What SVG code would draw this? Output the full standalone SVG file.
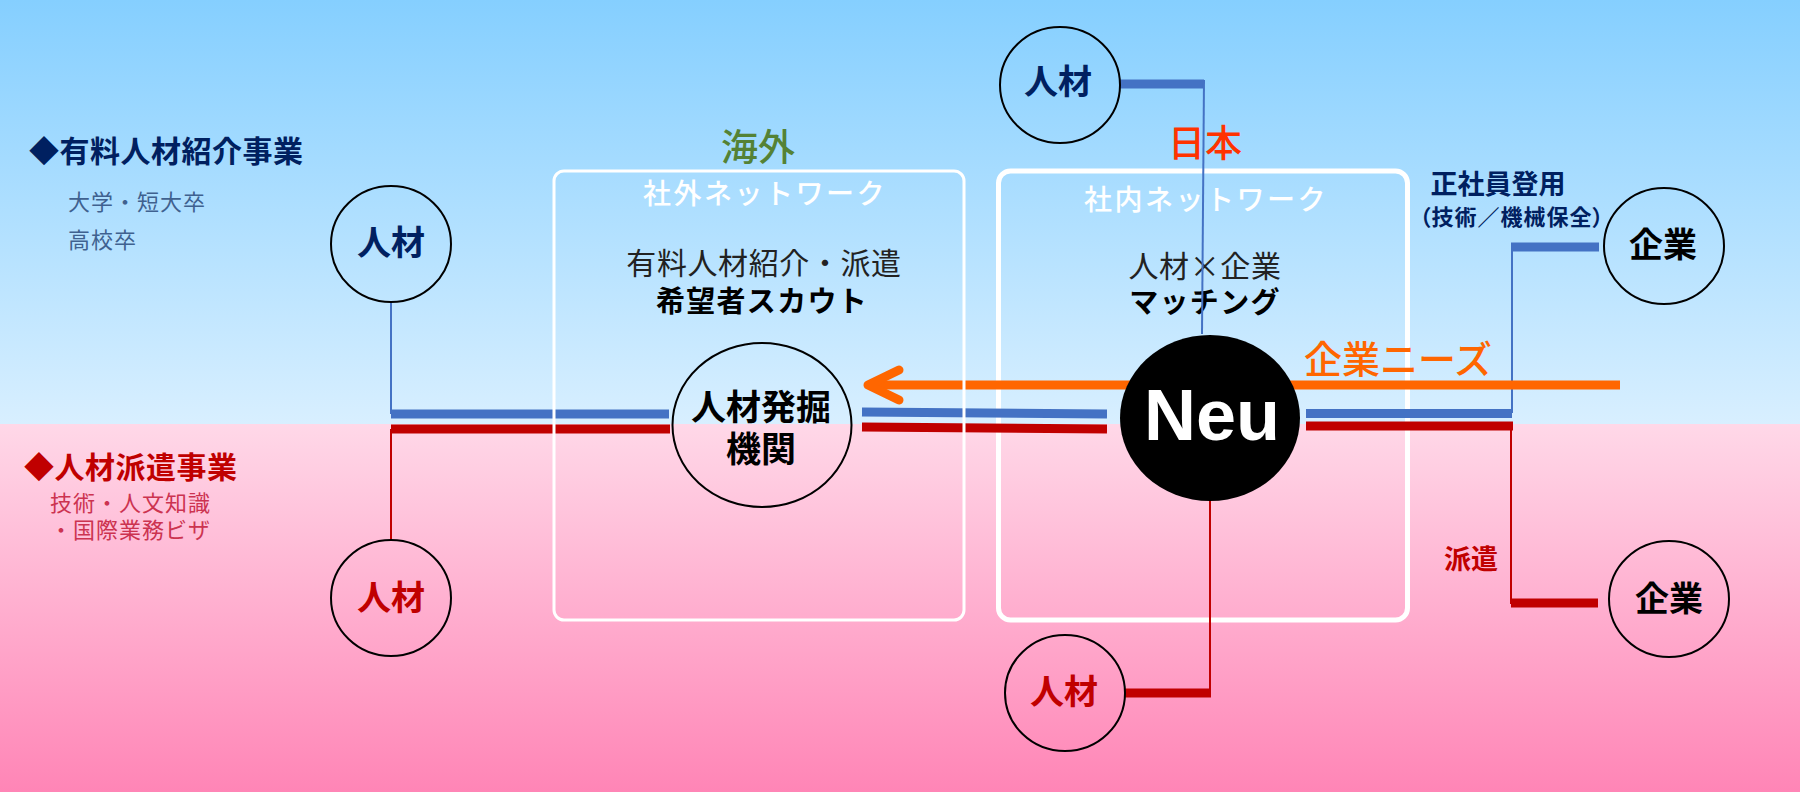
<svg xmlns="http://www.w3.org/2000/svg" width="1800" height="792" viewBox="0 0 1800 792">
<defs>
<linearGradient id="sky" x1="0" y1="0" x2="0" y2="1"><stop offset="0" stop-color="#85cfff"/><stop offset="1" stop-color="#d8efff"/></linearGradient>
<linearGradient id="rose" x1="0" y1="0" x2="0" y2="1"><stop offset="0" stop-color="#ffd8e8"/><stop offset="1" stop-color="#ff85b6"/></linearGradient>
</defs>
<style>
text{font-family:"Noto Sans CJK JP","Noto Sans",sans-serif}
.c{text-anchor:middle}
.ring{fill:none;stroke:#000;stroke-width:2}
.box{fill:none;stroke:#fff}
.node{font-size:34px;font-weight:700}
.scout{font-size:35px;font-weight:700;fill:#000}
.navy{fill:#002060}.red{fill:#c00000}.blk{fill:#000}
.h{font-size:30px;font-weight:700;letter-spacing:.5px}
.net{font-size:28px;font-weight:500;fill:#fff;letter-spacing:2.5px}
.mid{font-size:30px;font-weight:400;fill:#222;letter-spacing:.6px}
.bold{font-size:29px;font-weight:700;fill:#000;letter-spacing:1.3px}
.sub1{font-size:22px;fill:#3f618f;letter-spacing:1px}
.sub2{font-size:22px;fill:#cc3350;letter-spacing:1px}
.b8{fill:none;stroke:#4472c4;stroke-width:9}
.r8{fill:none;stroke:#c00000;stroke-width:9}
.b2{fill:none;stroke:#4472c4;stroke-width:2}
.r2{fill:none;stroke:#c00000;stroke-width:2}
.or{fill:none;stroke:#ff6600;stroke-width:9}
</style>
<g id="background">
<rect x="0" y="0" width="1800" height="424" fill="url(#sky)"/>
<rect x="0" y="424" width="1800" height="368" fill="url(#rose)"/>
</g>
<g id="legend">
<text x="29" y="162" class="h navy">◆有料人材紹介事業</text>
<text x="68" y="210" class="sub1">大学・短大卒</text>
<text x="68" y="248" class="sub1">高校卒</text>
<text x="24" y="478" class="h red">◆人材派遣事業</text>
<text x="50" y="511" class="sub2">技術・人文知識</text>
<text x="50" y="538" class="sub2">・国際業務ビザ</text>
</g>
<g id="node-japan-network">
<rect class="box" x="998.500" y="171" width="409" height="449" rx="12" stroke-width="5"/>
<text x="1205" y="157" class="c" font-size="37" font-weight="500" fill="#ff3300">日本</text>
<text x="1206" y="210" class="c net">社内ネットワーク</text>
<text x="1205" y="277" class="c mid">人材×企業</text>
<text x="1205" y="313" class="c bold">マッチング</text>
</g>
<g id="connectors">
<path class="b2" d="M391 302V414"/>
<path class="r2" d="M391 429V541"/>
<path class="b8" d="M391 414H669"/>
<path class="r8" d="M391 429H670"/>
<path class="b8" d="M862 412L1107 414"/>
<path class="r8" d="M862 427L1107 429"/>
<path class="b8" d="M1306 413.500H1512"/>
<path class="r8" d="M1306 426H1513"/>
<path class="b2" d="M1512 413V244"/>
<path class="b8" d="M1511 247H1599"/>
<path class="r2" d="M1511 430V604"/>
<path class="r8" d="M1511 603H1598"/>
<path class="b8" d="M1119 84H1204"/>
<path class="b2" d="M1204 80L1202 334"/>
<path class="r2" d="M1210 501V694"/>
<path class="r8" d="M1125 693H1211"/>
<path class="or" d="M1620 385H868"/>
<path class="or" stroke-linecap="round" stroke-linejoin="round" d="M899 370L868 385L899 400"/>
</g>
<g id="node-overseas-network">
<rect class="box" x="554" y="171" width="410" height="449" rx="10" stroke-width="3"/>
<text x="758" y="161" class="c" font-size="37" font-weight="500" fill="#548235">海外</text>
<text x="765" y="204" class="c net">社外ネットワーク</text>
<text x="764" y="274" class="c mid">有料人材紹介・派遣</text>
<text x="762" y="312" class="c bold">希望者スカウト</text>
</g>
<g id="node-talent-left-top"><ellipse class="ring" cx="391" cy="244" rx="60" ry="58"/><text x="391" y="255" class="c node navy">人材</text></g>
<g id="node-talent-left-bottom"><ellipse class="ring" cx="391" cy="598" rx="60" ry="58"/><text x="391" y="610" class="c node red">人材</text></g>
<g id="node-scout"><ellipse class="ring" cx="762" cy="425" rx="89.500" ry="82"/><text x="761" y="420" class="c scout">人材発掘</text><text x="761" y="462" class="c scout">機関</text></g>
<g id="node-talent-top"><ellipse class="ring" cx="1060" cy="85" rx="60" ry="58"/><text x="1058" y="94" class="c node navy">人材</text></g>
<g id="node-neu"><ellipse cx="1210" cy="418" rx="90" ry="83" fill="#000"/><text x="1212" y="440" class="c" style="font-family:'Liberation Sans',Arial,sans-serif" font-size="72" font-weight="700" fill="#fff">Neu</text></g>
<g id="node-talent-bottom"><ellipse class="ring" cx="1065" cy="693" rx="60" ry="58"/><text x="1064" y="704" class="c node red">人材</text></g>
<g id="node-company-top"><ellipse class="ring" cx="1664" cy="246" rx="60" ry="58"/><text x="1663" y="257" class="c node blk">企業</text></g>
<g id="node-company-bottom"><ellipse class="ring" cx="1669" cy="599" rx="60" ry="58"/><text x="1669" y="611" class="c node blk">企業</text></g>
<g id="labels">
<text x="1498" y="194" class="c navy" font-size="27" font-weight="700">正社員登用</text>
<text x="1512" y="225" class="c navy" font-size="22" font-weight="700" letter-spacing="1" style="font-feature-settings:'palt'">（技術／機械保全）</text>
<text x="1398" y="373" class="c" font-size="38" font-weight="500" fill="#ff6600">企業ニーズ</text>
<text x="1471" y="569" class="c red" font-size="27" font-weight="700">派遣</text>
</g>
</svg>
